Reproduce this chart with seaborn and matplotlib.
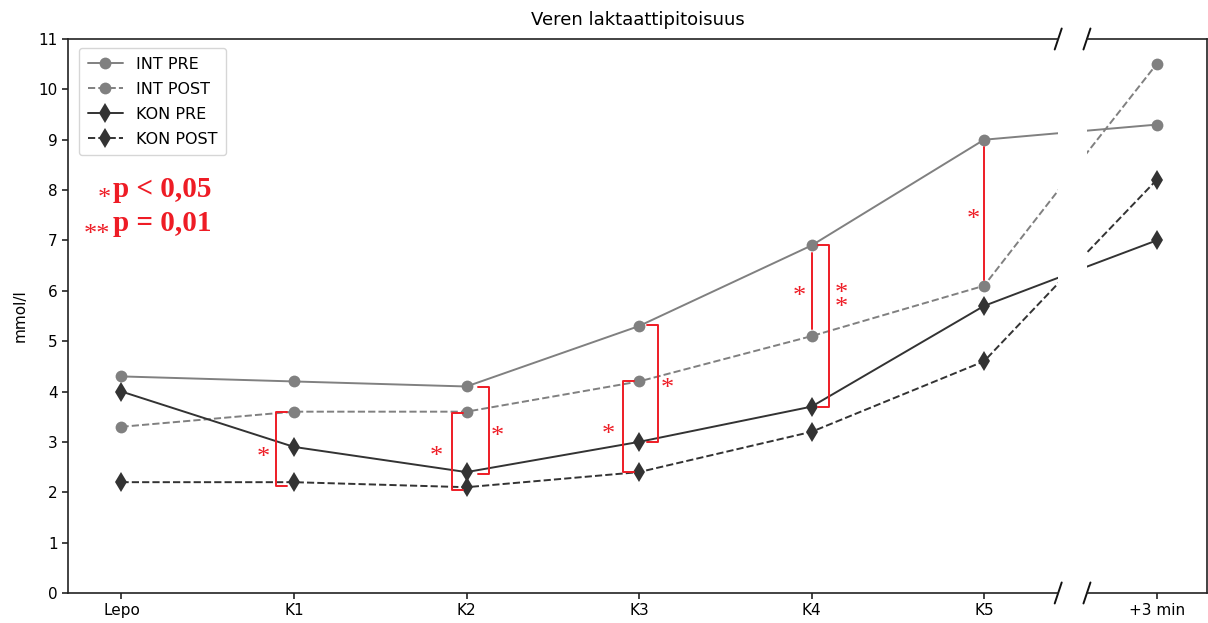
import numpy as np
import pandas as pd
import matplotlib
matplotlib.use("Agg")
import matplotlib.pyplot as plt
import seaborn as sns

# Measurement points and blood lactate (mmol/l) per group and test
timepoints = ["Lepo", "K1", "K2", "K3", "K4", "K5", "+3 min"]
int_pre = [4.3, 4.2, 4.1, 5.3, 6.9, 9.0, 9.3]
int_post = [3.3, 3.6, 3.6, 4.2, 5.1, 6.1, 10.5]
kon_pre = [4.0, 2.9, 2.4, 3.0, 3.7, 5.7, 7.0]
kon_post = [2.2, 2.2, 2.1, 2.4, 3.2, 4.6, 8.2]

# Significance brackets: (time index, x offset, top value, bottom value, cap direction)
# cap direction: +1 caps point right, -1 caps point left, 0 plain line
brackets = [
    (1, -0.105, 3.6, 2.12, 1),
    (2, -0.085, 3.57, 2.04, 1),
    (2, 0.13, 4.09, 2.36, -1),
    (3, -0.095, 4.2, 2.4, 1),
    (3, 0.11, 5.32, 3.0, -1),
    (4, 0.0, 6.75, 5.24, 0),
    (4, 0.10, 6.9, 3.69, -1),
    (5, 0.0, 8.85, 6.22, 0),
]
# Asterisk labels and positions (x in category units, y in mmol/l)
star_text = ["*", "*", "*", "*", "*", "*", "*\n*", "*"]
star_x = [0.823, 1.825, 2.178, 2.82, 3.163, 3.928, 4.171, 4.936]
star_y = [2.68, 2.70, 3.09, 3.13, 4.05, 5.87, 5.80, 7.4]

sns.set_style("ticks")
plt.rcParams["font.family"] = ["DejaVu Sans"]
plt.rcParams["text.color"] = "black"
plt.rcParams["axes.labelcolor"] = "black"
plt.rcParams["xtick.color"] = "black"
plt.rcParams["ytick.color"] = "black"

x = np.arange(len(timepoints))
df = pd.DataFrame({"x": x, "INT PRE": int_pre, "INT POST": int_post,
                   "KON PRE": kon_pre, "KON POST": kon_post})

series = [
    ("INT PRE", "#808080", "-", "o", 8.5),
    ("INT POST", "#808080", "--", "o", 8.5),
    ("KON PRE", "#333333", "-", "d", 10.5),
    ("KON POST", "#333333", "--", "d", 10.5),
]

fig = plt.figure(figsize=(12.08, 6.23), dpi=100)
ax1 = fig.add_axes([0.0563, 0.0482, 0.876 - 0.0563, 0.9374 - 0.0482])
ax2 = fig.add_axes([0.8998, 0.0482, 0.9992 - 0.8998, 0.9374 - 0.0482], sharey=ax1)

for ax in (ax1, ax2):
    for name, color, ls, mk, ms in series:
        sns.lineplot(data=df, x="x", y=name, ax=ax, color=color, linestyle=ls,
                     marker=mk, markersize=ms, markeredgewidth=0, linewidth=1.4,
                     label=name if ax is ax1 else None, legend=False)

ax1.set_xlim(-0.31, 5.43)
ax2.set_xlim(5.60, 6.29)
ax1.set_ylim(0, 11)
ax1.set_yticks(range(0, 12))
ax1.set_xticks(x[:6])
ax1.set_xticklabels(timepoints[:6])
ax2.set_xticks([x[6]])
ax2.set_xticklabels([timepoints[6]])
ax1.set_xlabel("")
ax2.set_xlabel("")
ax1.set_ylabel("mmol/l", fontsize=11)
ax1.yaxis.set_label_coords(-0.041, 0.5)
ax2.set_ylabel("")
ax1.spines["right"].set_visible(False)
ax2.spines["left"].set_visible(False)
ax2.tick_params(axis="y", left=False, labelleft=False)
for ax in (ax1, ax2):
    ax.tick_params(labelsize=11, length=4, width=1.2, color="#222222")
    for s in ax.spines.values():
        s.set_linewidth(1.2)
        s.set_color("#222222")

# Break marks on the x axis
def slash(ax, xa):
    trans = ax.transAxes
    w_px, h_px = ax.bbox.width, ax.bbox.height
    dx, dy = 3.5 / w_px, 10.5 / h_px
    for ya in (0, 1):
        ax.plot([xa - dx, xa + dx], [ya - dy, ya + dy], transform=trans,
                color="#111111", lw=1.4, clip_on=False)

slash(ax1, 1.0)
slash(ax2, 0.0)

leg = ax1.legend(loc="upper left", fontsize=11.5, frameon=True, handlelength=2.2,
                 borderpad=0.55, labelspacing=0.62, handletextpad=0.8,
                 bbox_to_anchor=(0.003, 0.998))
leg.get_frame().set_edgecolor("#cccccc")

# Significance markings
red = "#ee1c25"
for idx, off, top, bot, cap in brackets:
    xb = idx + off
    if cap == 0:
        ax1.plot([xb, xb], [top, bot], color=red, lw=1.4)
    else:
        c = 0.065 * cap
        ax1.plot([xb + c, xb, xb, xb + c], [top, top, bot, bot], color=red, lw=1.4)
for lab, sx, sy in zip(star_text, star_x, star_y):
    ax1.text(sx, sy, lab, color=red, fontsize=19, family="Liberation Serif",
             ha="center", va="center", linespacing=0.5)

# P-value key
key_kw = dict(transform=ax1.transAxes, color=red, family="Liberation Serif")
ax1.text(0.043, 0.712, "*", fontsize=19, ha="right", va="center", **key_kw)
ax1.text(0.0455, 0.704, "p < 0,05", fontsize=21, weight="bold", ha="left",
         va="bottom", **key_kw)
ax1.text(0.043, 0.647, "**", fontsize=19, ha="right", va="center", **key_kw)
ax1.text(0.0455, 0.643, "p = 0,01", fontsize=21, weight="bold", ha="left",
         va="bottom", **key_kw)

fig.text((0.0563 + 0.9992) / 2, 0.953, "Veren laktaattipitoisuus", ha="center",
         va="bottom", fontsize=13)

fig.savefig("out.png", dpi=100)
